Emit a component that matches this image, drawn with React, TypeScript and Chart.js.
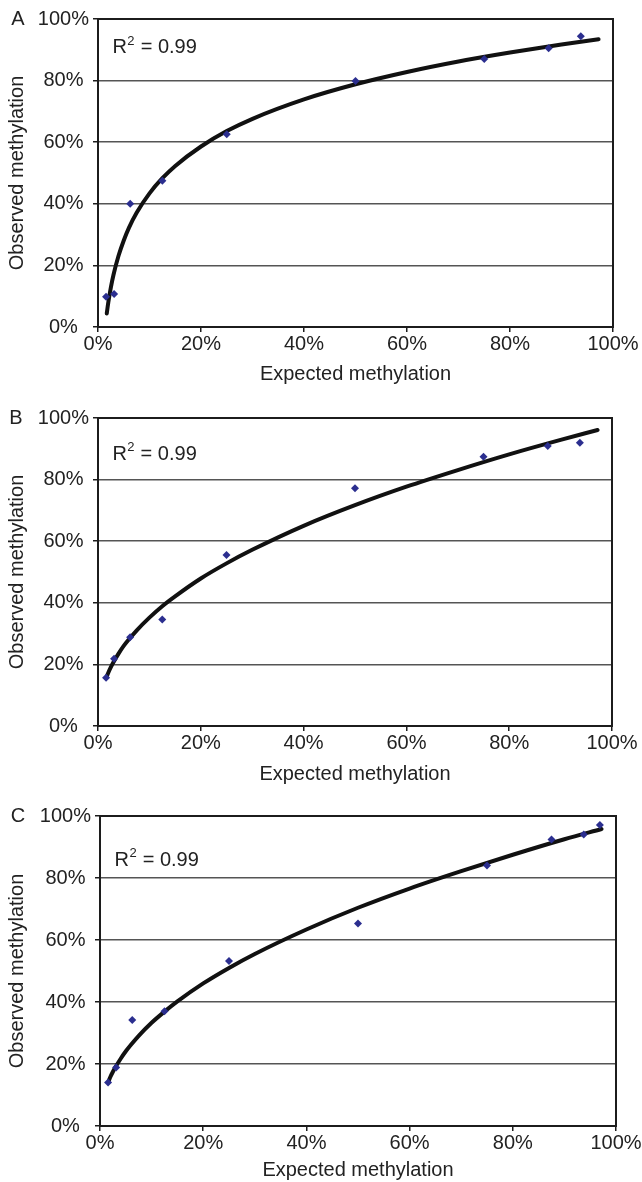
import React, { useEffect, useRef } from "react";
import { Chart, registerables } from "chart.js";

Chart.register(...registerables);

// ---------- data (percent) ----------
const expectedAB = [1.5625, 3.125, 6.25, 12.5, 25, 50, 75, 87.5, 93.75];
const expectedC = [1.5625, 3.125, 6.25, 12.5, 25, 50, 75, 87.5, 93.75, 96.875];
const observedA = [9.8, 10.7, 40.0, 47.5, 62.6, 79.9, 87.0, 90.5, 94.4];
const observedB = [15.7, 21.8, 28.8, 34.6, 55.5, 77.2, 87.4, 90.9, 92.0];
const observedC = [14.0, 18.9, 34.2, 37.0, 53.2, 65.3, 84.0, 92.4, 94.0, 97.1];

// trend curves
const trendX = [1.7, 2, 2.5, 3, 4, 5, 6, 7.5, 10, 12.5, 15, 20, 25, 30, 40, 50, 60, 70, 80, 90, 97.2];
const trendA = [4.4, 8.0, 12.9, 16.9, 23.2, 28.1, 32.2, 37.1, 43.4, 48.3, 52.3, 58.6, 63.6, 67.6, 73.9, 78.8, 82.8, 86.2, 89.1, 91.7, 93.4];
const trendB = [16.1, 17.3, 19.1, 20.7, 23.5, 26.0, 28.1, 31.0, 35.2, 38.9, 42.1, 47.9, 52.8, 57.2, 65.0, 71.7, 77.7, 83.1, 88.2, 92.9, 96.1];
const trendC = [14.6, 15.8, 17.5, 19.0, 21.7, 24.1, 26.2, 29.1, 33.3, 36.9, 40.2, 46.0, 51.0, 55.5, 63.4, 70.4, 76.6, 82.2, 87.5, 92.5, 95.8];

const panelLetters = ["A", "B", "C"];
const r2Value = "0.99";
const xTitle = "Expected methylation";
const yTitle = "Observed methylation";

const FONT = '"Liberation Sans", Arial, Helvetica, sans-serif';
const TEXT = "#222222";
const POINT = "#2b2e8f";

const framePlugin = {
  id: "frameDeco",
  beforeDatasetsDraw(chart: any, _a: any, opts: any) {
    const { ctx, chartArea: a } = chart;
    ctx.save();
    ctx.strokeStyle = "#1c1c1c";
    ctx.lineWidth = 2;
    ctx.strokeRect(a.left, a.top, a.right - a.left, a.bottom - a.top);
    ctx.restore();
  },
  afterDraw(chart: any, _a: any, opts: any) {
    const { ctx, chartArea: a, scales } = chart;
    ctx.save();
    ctx.fillStyle = TEXT;
    ctx.textBaseline = "middle";
    ctx.textAlign = "center";
    ctx.font = `20px ${FONT}`;
    ctx.fillText(opts.letter, opts.letterX, a.top);
    // R² label
    const x = scales.x.getPixelForValue(opts.r2x);
    const y = scales.y.getPixelForValue(opts.r2y);
    ctx.textAlign = "left";
    ctx.fillText("R", x, y);
    const w1 = ctx.measureText("R").width;
    ctx.font = `13px ${FONT}`;
    ctx.fillText("2", x + w1 + 0.5, y - 7);
    const w2 = ctx.measureText("2").width;
    ctx.font = `20px ${FONT}`;
    ctx.fillText(" = " + r2Value, x + w1 + w2 + 1, y);
    ctx.restore();
  },
};

type PanelProps = {
  letter: string;
  height: number;
  plotTop: number;
  plotBottom: number;
  left: number;
  right: number;
  titlePad: number;
  r2y: number;
  letterX: number;
  xs: number[];
  ys: number[];
  trend: number[];
};

function Panel(p: PanelProps) {
  const ref = useRef<HTMLCanvasElement | null>(null);
  useEffect(() => {
    if (!ref.current) return;
    const W = 642;
    const chart = new Chart(ref.current, {
      type: "scatter",
      data: {
        datasets: [
          {
            data: p.xs.map((x, i) => ({ x, y: p.ys[i] })),
            pointStyle: "rectRot",
            pointRadius: 4,
            pointBackgroundColor: POINT,
            pointBorderColor: POINT,
            pointBorderWidth: 0,
            showLine: false,
          } as any,
          {
            data: trendX.map((x, i) => ({ x, y: p.trend[i] })),
            showLine: true,
            borderColor: "#111111",
            borderWidth: 4,
            pointRadius: 0,
            cubicInterpolationMode: "monotone",
            borderCapStyle: "round",
          } as any,
        ],
      },
      options: {
        responsive: false,
        animation: false,
        devicePixelRatio: 1,
        layout: { padding: { left: 0, right: W - p.right, top: p.plotTop, bottom: 0 } },
        plugins: {
          legend: { display: false },
          tooltip: { enabled: false },
          frameDeco: { letter: p.letter, letterX: p.letterX, r2x: 2.8, r2y: p.r2y },
        } as any,
        scales: {
          x: {
            type: "linear",
            min: 0,
            max: 100,
            afterFit: (s: any) => {
              s.height = p.height - p.plotBottom;
            },
            ticks: {
              stepSize: 20,
              callback: (v: any) => `${v}%`,
              color: TEXT,
              font: { family: FONT, size: 20 },
              padding: 0,
              maxRotation: 0,
            },
            grid: {
              drawOnChartArea: false,
              drawTicks: true,
              tickLength: 5,
              tickColor: "#1c1c1c",
              lineWidth: 1.5,
            },
            border: { display: false },
            title: {
              display: true,
              text: xTitle,
              color: TEXT,
              font: { family: FONT, size: 20 },
              padding: { top: p.titlePad, bottom: 0 },
            },
          },
          y: {
            type: "linear",
            min: 0,
            max: 100,
            afterFit: (s: any) => {
              s.width = p.left;
            },
            ticks: {
              stepSize: 20,
              callback: (v: any) => `${v}%`,
              color: TEXT,
              font: { family: FONT, size: 20 },
              padding: 4,
              crossAlign: "center",
            },
            grid: {
              color: (c: any) =>
                c.tick && (c.tick.value === 0 || c.tick.value === 100) ? "rgba(0,0,0,0)" : "#555555",
              lineWidth: 1.5,
              drawTicks: true,
              tickLength: 5,
              tickColor: "#1c1c1c",
            },
            border: { display: false },
            title: {
              display: true,
              text: yTitle,
              color: TEXT,
              font: { family: FONT, size: 20 },
              padding: { top: 5, bottom: 0 },
            },
          },
        },
      },
      plugins: [framePlugin as any],
    });
    return () => chart.destroy();
  }, []);
  return (
    <canvas
      ref={ref}
      width={642}
      height={p.height}
      style={{ display: "block", width: 642, height: p.height }}
    />
  );
}

export default function App() {
  return (
    <div style={{ position: "absolute", left: 0, top: 0, width: 642, height: 1182, background: "#fff" }}>
      <Panel
        letter={panelLetters[0]}
        height={386}
        plotTop={19}
        plotBottom={327}
        left={98}
        right={613}
        titlePad={1}
        r2y={90.6}
        letterX={18}
        xs={expectedAB}
        ys={observedA}
        trend={trendA}
      />
      <Panel
        letter={panelLetters[1]}
        height={400}
        plotTop={32}
        plotBottom={340}
        left={98}
        right={612}
        titlePad={1}
        r2y={88.3}
        letterX={16}
        xs={expectedAB}
        ys={observedB}
        trend={trendB}
      />
      <Panel
        letter={panelLetters[2]}
        height={396}
        plotTop={30}
        plotBottom={340}
        left={100}
        right={616}
        titlePad={0}
        r2y={85.8}
        letterX={18}
        xs={expectedC}
        ys={observedC}
        trend={trendC}
      />
    </div>
  );
}
